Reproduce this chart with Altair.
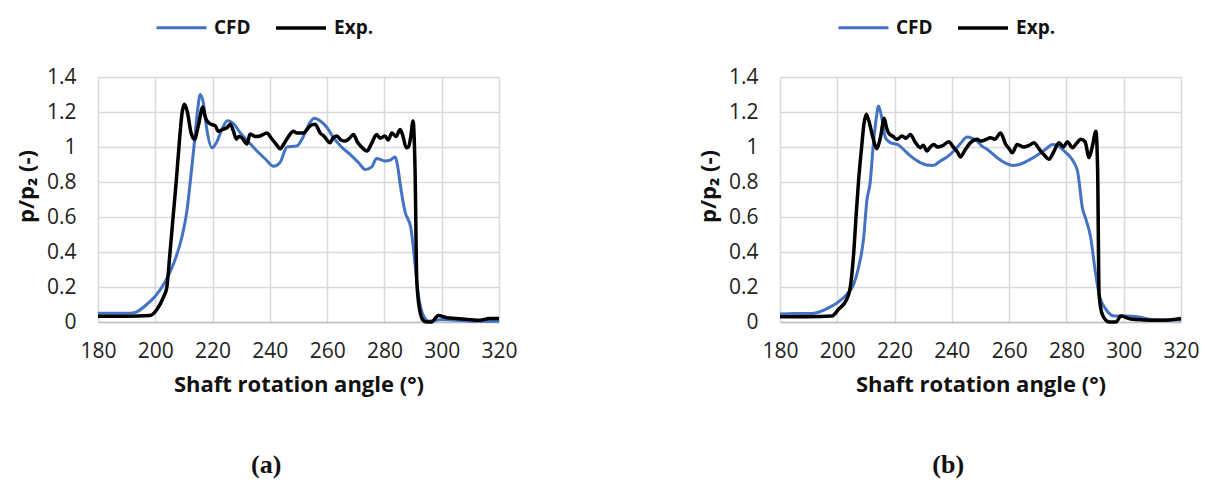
import altair as alt
import pandas as pd

# ---------------- panel (a) ----------------
a_cfd_x = [180, 185, 190, 193, 197, 200, 203.6, 206.3, 209.2, 211, 212.2, 213.5, 214.7, 215.7, 216.8, 218,
           219.8, 221.5, 223.5, 225.2, 227.5, 229.7, 232.5, 235.5, 238.5, 241.3, 243.5, 246, 249.4, 252, 254,
           255.5, 257.5, 260, 262.2, 265, 268, 271, 273.3, 275.5, 277.3, 280.2, 282, 283.7, 284.9, 285.4, 287.2,
           289.2, 290.7, 291.8, 293.5, 295.5, 298, 300, 305, 310, 315, 320]
a_cfd_y = [0.05, 0.05, 0.05, 0.055, 0.10, 0.147, 0.234, 0.33, 0.48, 0.63, 0.80, 1.0, 1.2, 1.30, 1.25, 1.10,
           0.996, 1.03, 1.11, 1.15, 1.13, 1.08, 1.03, 0.977, 0.93, 0.89, 0.91, 1.0, 1.006, 1.07, 1.14,
           1.165, 1.15, 1.11, 1.053, 1.00, 0.958, 0.91, 0.872, 0.885, 0.935, 0.92, 0.925, 0.943, 0.86, 0.80, 0.63,
           0.54, 0.33, 0.16, 0.04, 0.005, 0.01, 0.015, 0.01, 0.005, 0.005, 0.005]

a_exp_x = [180, 190, 198.1, 200.5, 202.8, 204, 205.1, 206.3, 207.3, 208.5, 209.4, 210.2, 211.2, 212.5, 213.7,
           215, 216.6, 217.3, 218, 219.5, 221, 222, 223.5, 225, 226.2, 227.3, 228.3, 229.2, 230.2, 231.2, 232,
           233.1, 235, 236.6, 239, 240.5, 242, 243.6, 245, 246.5, 248.2, 249.5, 250.6, 251.7, 253, 254, 255.8,
           257.6, 259, 261, 262, 263.4, 264.8, 266.3, 267.8, 269.2, 270.5, 272, 273.9, 275.5, 277.3, 278.5,
           280.2, 281.3, 282.6, 284, 285.5, 286.5, 287.6, 288.4, 289.2, 290, 290.7, 291.3, 292.4, 293.5, 294.7,
           296.4, 298.8, 301.7, 305, 309, 313.3, 316.7, 320]
a_exp_y = [0.033, 0.033, 0.037, 0.07, 0.14, 0.196, 0.39, 0.615, 0.80, 1.05, 1.20, 1.244, 1.2, 1.08, 1.044,
           1.12, 1.229, 1.18, 1.15, 1.13, 1.12, 1.09, 1.10, 1.11, 1.13, 1.09, 1.045, 1.06, 1.053, 1.03, 1.017,
           1.074, 1.06, 1.063, 1.08, 1.05, 1.02, 0.99, 1.02, 1.06, 1.09, 1.08, 1.08, 1.08, 1.10, 1.12, 1.13,
           1.08, 1.06, 1.025, 1.05, 1.063, 1.04, 1.034, 1.05, 1.072, 1.03, 1.0, 0.977, 1.02, 1.072, 1.05,
           1.063, 1.04, 1.08, 1.06, 1.10, 1.06, 0.996, 1.0, 1.06, 1.149, 0.863, 0.234, 0.06, 0.01, 0.0,
           0.0, 0.037, 0.025, 0.02, 0.015, 0.01, 0.02, 0.02]

# ---------------- panel (b) ----------------
b_cfd_x = [180, 185, 190, 192.8, 197.5, 200, 203.3, 205.7, 207.4, 209.2, 210.3, 211.5, 212.5, 213.5, 214.4,
           215.5, 216.8, 218.5, 221.4, 223.5, 225.5, 228.5, 231.3, 233.5, 236, 238.5, 240.7, 243, 245.3, 247,
           248.8, 250.5, 252.3, 255.8, 258.5, 261.1, 263.5, 266.3, 268.5, 271, 273, 275.1, 276.8, 278.6, 280,
           281.5, 283, 283.9, 285.6, 286.8, 288.5, 289.9, 291.4, 293.8, 296.7, 301.3, 304.8, 309.5, 315, 320]
b_cfd_y = [0.045, 0.048, 0.048, 0.053, 0.086, 0.11, 0.158, 0.215, 0.31, 0.48, 0.69, 0.80, 1.0, 1.15, 1.234,
           1.17, 1.053, 1.025, 1.011, 0.98, 0.949, 0.915, 0.897, 0.895, 0.92, 0.945, 0.977, 1.02, 1.057, 1.05,
           1.034, 1.005, 0.987, 0.939, 0.91, 0.895, 0.9, 0.92, 0.94, 0.967, 0.99, 1.015, 1.01, 0.987, 0.965,
           0.939, 0.9, 0.86, 0.65, 0.587, 0.48, 0.31, 0.158, 0.072, 0.034, 0.034, 0.03, 0.015, 0.012, 0.012]

b_exp_x = [180, 190, 198.1, 200.4, 203.3, 204.5, 205.7, 206.6, 207.4, 208.5, 209.3, 210.1, 211, 212.5, 213.8,
           215, 216.4, 217.2, 217.9, 219.5, 220.8, 222.6, 224, 225.5, 227.3, 229, 230, 231.3, 232.5, 233.7,
           235, 236.6, 238.9, 240.5, 242, 243, 244.5, 246.5, 248.8, 250, 251.5, 253.5, 255, 257, 258.8, 260,
           261.1, 262.8, 265.1, 267, 268.7, 270, 271, 272.5, 273.9, 275.5, 277.4, 279, 280.3, 282.1, 283.5,
           285, 286.5, 287.9, 289, 290.3, 290.9, 291.4, 292.6, 294.9, 297.3, 299, 302.5, 307, 311.9, 316, 320]
b_exp_y = [0.03, 0.03, 0.034, 0.072, 0.13, 0.196, 0.387, 0.615, 0.80, 1.0, 1.13, 1.187, 1.15, 1.05, 0.99,
           1.05, 1.164, 1.11, 1.08, 1.06, 1.044, 1.063, 1.05, 1.072, 1.025, 0.996, 1.01, 0.977, 1.0, 1.015,
           1.0, 1.006, 1.03, 1.0, 0.97, 0.943, 0.98, 1.025, 1.044, 1.034, 1.04, 1.053, 1.045, 1.08, 1.015,
           0.99, 0.967, 1.015, 1.0, 1.01, 1.025, 1.0, 0.977, 0.95, 0.93, 0.97, 1.025, 1.0, 1.03, 0.996, 1.02,
           1.044, 1.03, 0.939, 1.0, 1.09, 0.86, 0.158, 0.04, 0.0, 0.0, 0.034, 0.017, 0.012, 0.01, 0.012, 0.02]

series_names = ["CFD", "Exp."]
series_colors = ["#4472C4", "#000000"]
x_ticks = [180, 200, 220, 240, 260, 280, 300, 320]
y_ticks = [0, 0.2, 0.4, 0.6, 0.8, 1, 1.2, 1.4]

FONT = "Open Sans"


def make_df(cx, cy, ex, ey):
    d1 = pd.DataFrame({"angle": cx, "p": cy, "series": "CFD"})
    d2 = pd.DataFrame({"angle": ex, "p": ey, "series": "Exp."})
    return pd.concat([d1, d2], ignore_index=True)


def panel(df, caption):
    return alt.Chart(df).mark_line(interpolate="monotone").encode(
        x=alt.X("angle:Q",
                scale=alt.Scale(domain=[180, 320], nice=False, zero=False),
                axis=alt.Axis(values=x_ticks, title="Shaft rotation angle (°)",
                              labelFontSize=21, labelFont=FONT, labelColor="#222222",
                              labelFlush=False, labelPadding=18,
                              titleFont=FONT, titleFontSize=22,
                              titleFontWeight="bold", titleColor="#111111", titlePadding=13,
                              grid=True, gridColor="#d9d9d9", gridWidth=1.5,
                              domain=True, domainColor="#bfbfbf", domainWidth=1.5,
                              ticks=False)),
        y=alt.Y("p:Q",
                scale=alt.Scale(domain=[0, 1.4], nice=False),
                axis=alt.Axis(values=y_ticks, format="~g", title="p/p₂ (-)",
                              labelFontSize=21, labelFont=FONT, labelColor="#222222",
                              labelPadding=22, titleFont=FONT, titleFontSize=22,
                              titleFontWeight="bold", titleColor="#111111", titlePadding=8,
                              titleY=109,
                              grid=True, gridColor="#d9d9d9", gridWidth=1.5,
                              domain=False, ticks=False)),
        color=alt.Color("series:N",
                        scale=alt.Scale(domain=series_names, range=series_colors),
                        legend=alt.Legend(title=None, orient="none", direction="horizontal",
                                          legendX=57, legendY=-76, padding=0,
                                          symbolType="stroke", symbolSize=2500,
                                          symbolStrokeWidth=3.5, labelFont=FONT,
                                          labelFontSize=19, labelFontWeight="bold",
                                          labelColor="#111111", labelOffset=6,
                                          columnPadding=18)),
        strokeWidth=alt.StrokeWidth("series:N",
                                    scale=alt.Scale(domain=series_names, range=[3, 3.5]),
                                    legend=None),
    ).properties(
        width=401, height=245,
        title=alt.TitleParams(caption, orient="bottom", font="Liberation Serif", fontSize=26,
                              fontWeight="bold", color="#111111", offset=57, anchor="middle",
                              frame="bounds"),
    )


left = panel(make_df(a_cfd_x, a_cfd_y, a_exp_x, a_exp_y), "(a)")
right = panel(make_df(b_cfd_x, b_cfd_y, b_exp_x, b_exp_y), "(b)")

chart = alt.hconcat(left, right, spacing=178).resolve_scale(
    color="independent", strokeWidth="independent"
).resolve_legend(color="independent").properties(
    padding={"left": 14, "top": 0, "right": 5, "bottom": 5}
).configure_view(stroke=None).configure(background="white")

chart.save("out.html", embed_options={"renderer": "svg", "actions": False})
